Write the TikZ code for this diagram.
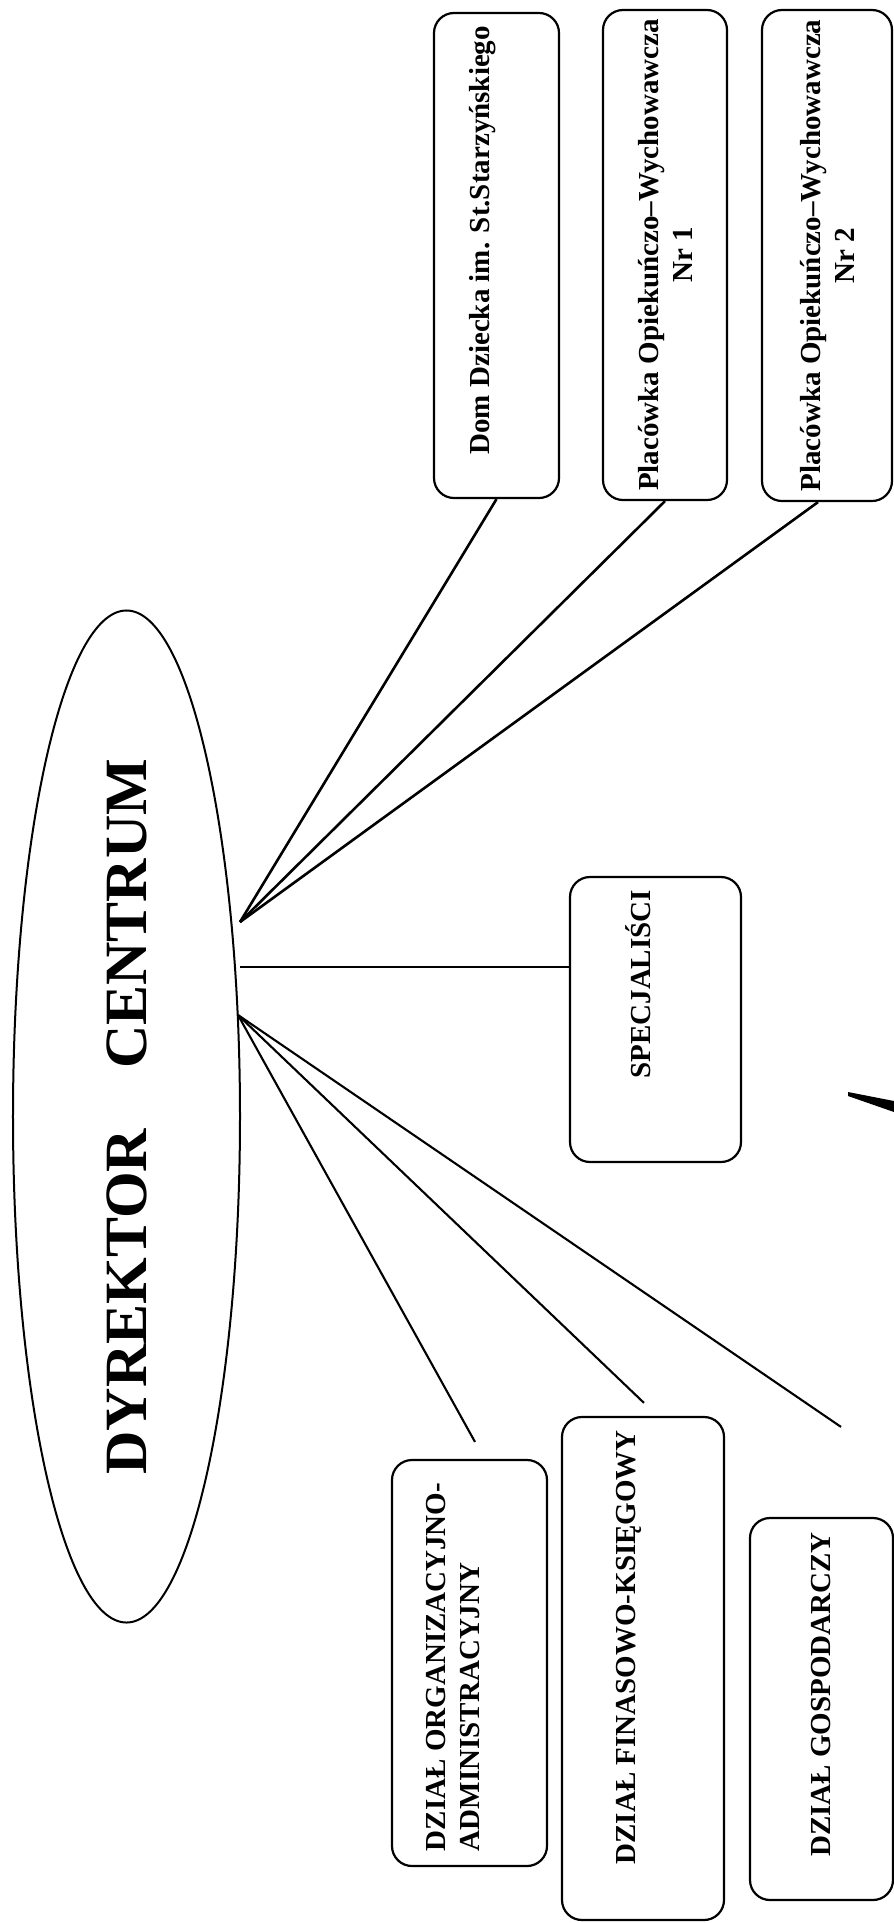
\documentclass[tikz,border=0pt]{standalone}
\usepackage{fontspec}
\setmainfont{Liberation Serif}
\usetikzlibrary{shapes.geometric,positioning}

\begin{document}
\begin{tikzpicture}[x=1bp,y=-1bp,
unit/.style={draw, line width=2.2bp, rounded corners=20bp, inner sep=0pt, font=\fontsize{29bp}{34bp}\selectfont\bfseries},
boss/.style={draw, ellipse, line width=2bp, inner sep=0pt, font=\fontsize{60bp}{70bp}\selectfont\bfseries},
link/.style={line width=2.6bp},
thinlink/.style={line width=2.1bp},
]
\useasboundingbox (0,0) rectangle (894,1923);

\node[boss, minimum width=227bp, minimum height=1003bp] (dyr) at (126.5,1116.5) {\rotatebox{90}{DYREKTOR\hspace{1em}CENTRUM}};

\node[unit, minimum width=125bp, minimum height=485bp] (dom) at (496.5,255.5) {\rotatebox{90}{\parbox{459bp}{\raggedleft Dom Dziecka im. St.Starzyńskiego\\ \mbox{}}}};
\node[unit, minimum width=124bp, minimum height=490bp] (nr1) at (665,255) {\rotatebox{90}{\parbox{480bp}{\centering Placówka Opiekuńczo--Wychowawcza\\ Nr 1}}};
\node[unit, minimum width=130bp, minimum height=491bp] (nr2) at (827,255.5) {\rotatebox{90}{\parbox{480bp}{\centering Placówka Opiekuńczo--Wychowawcza\\ Nr 2}}};
\node[unit, minimum width=171bp, minimum height=285bp] (spec) at (655.5,1019.5) {\rotatebox{90}{\parbox{259bp}{\raggedleft SPECJALIŚCI\\ \mbox{}}}};
\node[unit, minimum width=155bp, minimum height=406bp] (org) at (469.5,1663) {\rotatebox{90}{\parbox{376bp}{\raggedright DZIAŁ ORGANIZACYJNO-\\ ADMINISTRACYJNY\\ \mbox{}}}};
\node[unit, minimum width=162bp, minimum height=503bp] (fin) at (643,1668.5) {\rotatebox{90}{\parbox{477bp}{\raggedleft DZIAŁ FINASOWO-KSIĘGOWY\\ \mbox{}}}};
\node[unit, minimum width=143bp, minimum height=382bp] (gos) at (821.5,1709) {\rotatebox{90}{\parbox{354bp}{\raggedleft DZIAŁ GOSPODARCZY}}};

\coordinate (hubA) at (240,922);
\coordinate (hubB) at (240,967);
\coordinate (hubC) at (238,1015);
\coordinate (orgtip) at ([shift={(5.5,-17)}]org.north);
\coordinate (fintip) at ([shift={(1,-13)}]fin.north);
\coordinate (gostip) at ([shift={(19.5,-90)}]gos.north);

\path[link]
(hubA) edge (dom.south)
(hubA) edge (nr1.south)
(hubA) edge ([xshift=-9bp]nr2.south)
(hubB) edge (hubB -| spec.west)
;
\path[thinlink]
(hubC) edge (orgtip)
(hubC) edge (fintip)
(hubC) edge (gostip)
;

\fill (848,1092) -- (894,1101) -- (894,1112) -- (848,1096) -- cycle;
\end{tikzpicture}
\end{document}
